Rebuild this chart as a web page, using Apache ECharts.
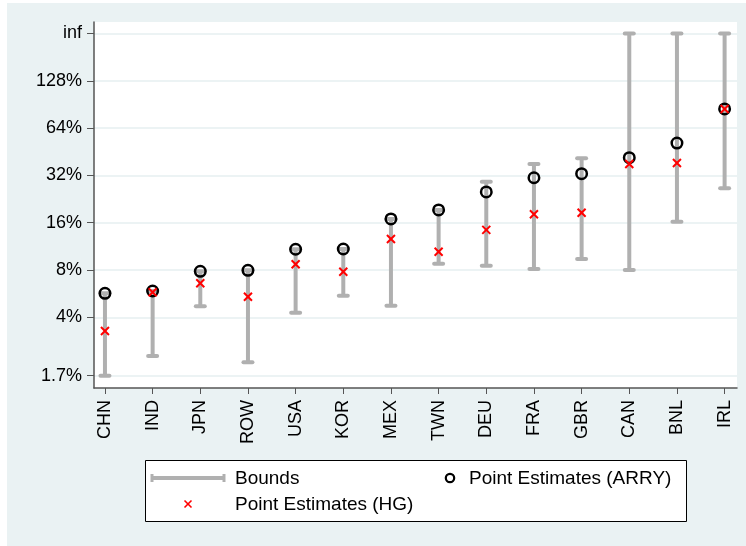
<!DOCTYPE html>
<html>
<head>
<meta charset="utf-8">
<script src="https://cdn.jsdelivr.net/npm/echarts@6/dist/echarts.min.js"></script>
<style>
  html, body { margin: 0; padding: 0; background: #ffffff; }
  #chart { width: 746px; height: 546px; }
</style>
</head>
<body>
<div id="chart"></div>
<script>
// Countries, ordered by the ARRY estimate
const countries = ['CHN', 'IND', 'JPN', 'ROW', 'USA', 'KOR', 'MEX', 'TWN', 'DEU', 'FRA', 'GBR', 'CAN', 'BNL', 'IRL'];

// Values in percent; Infinity marks an unbounded upper limit
const lowerBound = [1.70, 2.27, 4.70, 2.07, 4.28, 5.49, 4.74, 8.77, 8.52, 8.12, 9.40, 8.00, 16.2, 26.5];
const upperBound = [5.68, 5.88, 7.85, 7.96, 10.84, 10.88, 16.9, 19.3, 29.2, 37.8, 41.1, Infinity, Infinity, Infinity];
const arryEstimate = [5.68, 5.88, 7.85, 7.96, 10.84, 10.88, 16.9, 19.3, 25.1, 30.9, 32.8, 41.5, 51.4, 84.7];
const hgEstimate = [3.27, 5.77, 6.58, 5.41, 8.70, 7.80, 12.6, 10.46, 14.4, 18.1, 18.5, 37.8, 38.4, 84.7];

// Tick marks of the log-scaled vertical axis
const yTickValues = [1.7, 4, 8, 16, 32, 64, 128, Infinity];
const yTickLabels = ['1.7%', '4%', '8%', '16%', '32%', '64%', '128%', 'inf'];

// "inf" sits one doubling above 128%
const INF_POSITION = 256;
const toLog = v => Math.log2(isFinite(v) ? v : INF_POSITION);

const FONT = "'Liberation Sans', Arial, Helvetica, sans-serif";
const BOUND_COLOR = '#b0b0b0';

const boundsData = countries.map((c, i) => [i + 1, toLog(lowerBound[i]), toLog(upperBound[i])]);
const arryData = arryEstimate.map((v, i) => [i + 1, toLog(v)]);
const hgData = hgEstimate.map((v, i) => [i + 1, toLog(v)]);
const yTickPositions = yTickValues.map(toLog);
const xTickPositions = countries.map((c, i) => i + 1);

function renderBounds(params, api) {
  const x = api.value(0);
  const lo = api.coord([x, api.value(1)]);
  const hi = api.coord([x, api.value(2)]);
  const capHalf = 4.5;
  const style = { stroke: BOUND_COLOR, lineWidth: 4, lineCap: 'round' };
  return {
    type: 'group',
    children: [
      { type: 'line', shape: { x1: lo[0], y1: lo[1], x2: hi[0], y2: hi[1] }, style: { stroke: BOUND_COLOR, lineWidth: 4 } },
      { type: 'line', shape: { x1: lo[0] - capHalf, y1: lo[1], x2: lo[0] + capHalf, y2: lo[1] }, style },
      { type: 'line', shape: { x1: hi[0] - capHalf, y1: hi[1], x2: hi[0] + capHalf, y2: hi[1] }, style }
    ]
  };
}

const chart = echarts.init(document.getElementById('chart'), null, { renderer: 'canvas' });

const legendTextStyle = { font: '19px ' + FONT, fill: '#000', verticalAlign: 'middle' };

chart.setOption({
  animation: false,
  backgroundColor: '#ffffff',
  textStyle: { fontFamily: FONT },
  graphic: [
    { type: 'rect', z: -10, silent: true, shape: { x: 7, y: 3, width: 739, height: 543 }, style: { fill: '#eaf2f3' } },
    // legend
    { type: 'group', z: 10, children: [
      { type: 'rect', shape: { x: 145.5, y: 460.5, width: 541, height: 61 }, style: { fill: '#ffffff', stroke: '#000', lineWidth: 1 } },
      { type: 'line', shape: { x1: 152, y1: 478, x2: 224, y2: 478 }, style: { stroke: BOUND_COLOR, lineWidth: 4 } },
      { type: 'line', shape: { x1: 152, y1: 474, x2: 152, y2: 482 }, style: { stroke: BOUND_COLOR, lineWidth: 3 } },
      { type: 'line', shape: { x1: 224, y1: 474, x2: 224, y2: 482 }, style: { stroke: BOUND_COLOR, lineWidth: 3 } },
      { type: 'text', style: Object.assign({ x: 235, y: 479, text: 'Bounds' }, legendTextStyle) },
      { type: 'circle', shape: { cx: 450, cy: 478, r: 4.2 }, style: { fill: 'none', stroke: '#000', lineWidth: 2.2 } },
      { type: 'text', style: Object.assign({ x: 469, y: 479, text: 'Point Estimates (ARRY)' }, legendTextStyle) },
      { type: 'line', shape: { x1: 184.5, y1: 500.5, x2: 191.5, y2: 507.5 }, style: { stroke: '#ff0000', lineWidth: 1.6 } },
      { type: 'line', shape: { x1: 191.5, y1: 500.5, x2: 184.5, y2: 507.5 }, style: { stroke: '#ff0000', lineWidth: 1.6 } },
      { type: 'text', style: Object.assign({ x: 235, y: 505, text: 'Point Estimates (HG)' }, legendTextStyle) }
    ] }
  ],
  grid: {
    left: 94, top: 22, right: 9, bottom: 158,
    show: true, backgroundColor: '#ffffff', borderWidth: 0,
    containLabel: false
  },
  xAxis: {
    type: 'value',
    min: 0.77, max: 14.26,
    axisLine: { show: true, lineStyle: { color: '#555555', width: 1.5 } },
    axisTick: { show: true, length: 6, customValues: xTickPositions, lineStyle: { color: '#555555', width: 1 } },
    axisLabel: {
      show: true, customValues: xTickPositions, rotate: 90, margin: 12,
      fontSize: 18, color: '#000', fontFamily: FONT,
      formatter: v => countries[Math.round(v) - 1] || ''
    },
    splitLine: { show: false }
  },
  yAxis: {
    type: 'value',
    min: 0.505, max: 8.243,
    axisLine: { show: true, lineStyle: { color: '#555555', width: 1.5 } },
    axisTick: { show: true, length: 7, customValues: yTickPositions, lineStyle: { color: '#555555', width: 1 } },
    axisLabel: {
      show: true, customValues: yTickPositions, margin: 12,
      fontSize: 18, color: '#000', fontFamily: FONT,
      formatter: v => {
        const k = yTickPositions.findIndex(t => Math.abs(t - v) < 1e-6);
        return k >= 0 ? yTickLabels[k] : '';
      }
    },
    splitLine: { show: true, lineStyle: { color: '#e6eff1', width: 1.5 } }
  },
  series: [
    {
      name: 'Bounds',
      type: 'custom',
      renderItem: renderBounds,
      encode: { x: 0, y: [1, 2] },
      data: boundsData,
      z: 2,
      clip: false
    },
    {
      name: 'Point Estimates (ARRY)',
      type: 'scatter',
      data: arryData,
      symbol: 'circle',
      symbolSize: 10.5,
      itemStyle: { color: 'rgba(0,0,0,0)', borderColor: '#000', borderWidth: 2.5, opacity: 1 },
      emphasis: { disabled: true },
      z: 3
    },
    {
      name: 'Point Estimates (HG)',
      type: 'scatter',
      data: hgData,
      symbol: 'path://M0,0L10,10M10,0L0,10',
      symbolSize: 8,
      itemStyle: { color: 'none', borderColor: '#ff0000', borderWidth: 2, opacity: 1 },
      emphasis: { disabled: true },
      z: 4
    }
  ]
});
</script>
</body>
</html>
